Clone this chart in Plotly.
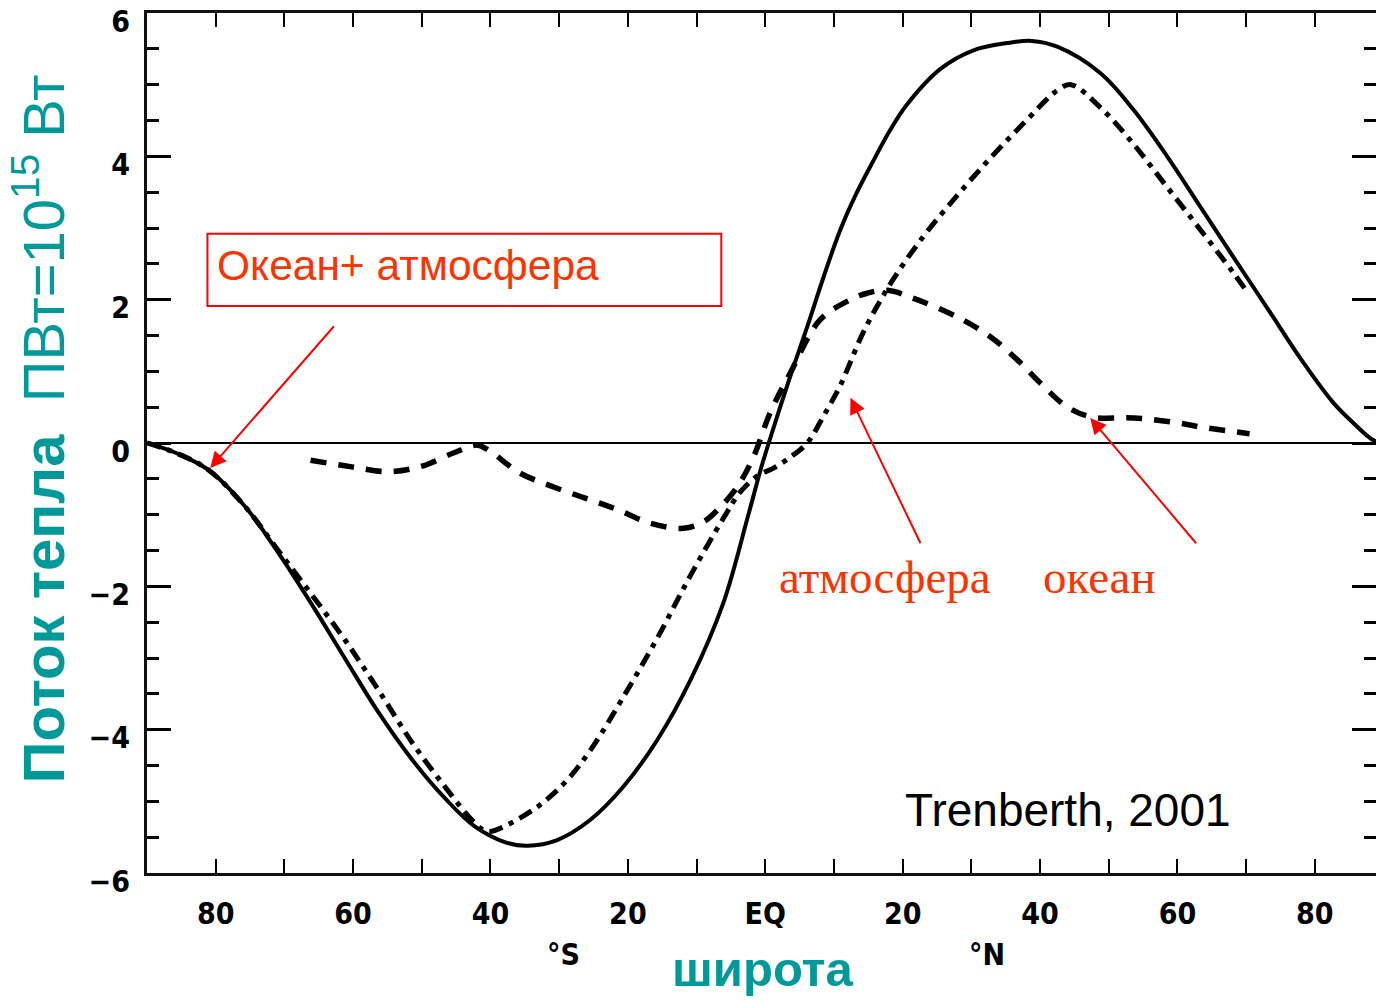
import plotly.graph_objects as go

# ---- data ----
lat_total = [-90, -85.5, -81, -75.7, -70.9, -65.9, -61.1, -56.3, -51.4, -46.6, -42.3, -37.6, -34.6,
             -30.3, -25.5, -20.7, -15.7, -10.9, -6.1, -2.6, -0.7, 0.5, 3.6, 6.1, 8.5, 10.9, 13.3,
             15.8, 18.2, 20.6, 25.5, 30.3, 35.2, 38.8, 42.5, 48.8, 53.6, 58.5, 63.3, 68.1, 73.1,
             77.9, 82.7, 85.6, 88.5, 90]
flux_total = [0, -0.15, -0.38, -0.89, -1.53, -2.27, -3.02, -3.76, -4.42, -4.96, -5.35, -5.58, -5.62,
              -5.54, -5.26, -4.80, -4.14, -3.31, -2.23, -1.05, -0.38, 0.0, 0.92, 1.62, 2.32, 2.97, 3.49,
              3.95, 4.37, 4.72, 5.22, 5.48, 5.58, 5.61, 5.53, 5.16, 4.65, 4.0, 3.3, 2.6, 1.88,
              1.18, 0.56, 0.28, 0.04, 0]

lat_atm = [-90, -85.5, -81, -75.7, -70.9, -66, -61.1, -56.3, -51.4, -46.6, -42.5, -40.5, -37.6,
           -32.8, -28.8, -25.2, -20.7, -15.7, -10.9, -6.1, -3.6, -1.0, 1.2, 3.6, 6.1, 8.5, 10.9,
           14.3, 18.2, 23, 27.9, 32.8, 37.6, 42.5, 44.5, 48.8, 53.6, 58.5, 63.3, 68.1, 70.2]
flux_atm = [0, -0.15, -0.38, -0.89, -1.50, -2.12, -2.76, -3.45, -4.18, -4.80, -5.28, -5.42, -5.33,
            -5.05, -4.70, -4.25, -3.55, -2.72, -1.85, -1.05, -0.68, -0.45, -0.35, -0.2, 0.0, 0.38, 0.8,
            1.55, 2.22, 2.88, 3.45, 3.98, 4.46, 4.92, 5.0, 4.68, 4.17, 3.57, 2.98, 2.38, 2.1]

lat_ocean = [-66.2, -60.4, -55, -50.2, -45.4, -41.9, -40, -35.7, -30.9, -25.9, -21.5, -16.7, -11.9,
             -9, -6.6, -4, -1.7, 0.7, 3.6, 8, 12.4, 14.8, 17.8, 22.1, 27.9, 32.8, 36.7, 40, 44,
             47.7, 53.6, 59.4, 64.3, 70.5]
flux_ocean = [-0.24, -0.33, -0.40, -0.33, -0.14, -0.03, -0.12, -0.42, -0.61, -0.78, -0.93, -1.12, -1.19,
              -1.10, -0.90, -0.60, -0.19, 0.42, 0.97, 1.72, 2.0, 2.09, 2.13, 2.0, 1.76, 1.48, 1.16, 0.84, 0.5,
              0.36, 0.35, 0.29, 0.21, 0.13]

x_tickvals = [-80, -70, -60, -50, -40, -30, -20, -10, 0, 10, 20, 30, 40, 50, 60, 70, 80]
x_ticktext = ["80", "", "60", "", "40", "", "20", "", "EQ", "", "20", "", "40", "", "60", "", "80"]
y_tickvals = [-6, -4, -2, 0, 2, 4, 6]

TEAL = "#009999"
RED = "#ff0000"
TXT_RED = "#ff3300"

fig = go.Figure()
fig.add_trace(go.Scatter(x=lat_total, y=flux_total, mode="lines", line_shape="spline",
                         line=dict(color="black", width=4), name="Океан+ атмосфера"))
fig.add_trace(go.Scatter(x=lat_atm, y=flux_atm, mode="lines", line_shape="spline",
                         line=dict(color="black", width=5, dash="14px,7px,5px,7px"), name="атмосфера"))
fig.add_trace(go.Scatter(x=lat_ocean, y=flux_ocean, mode="lines", line_shape="spline",
                         line=dict(color="black", width=5.5, dash="16px,12px"), name="океан"))

tickfont = dict(family="Liberation Sans Narrow, DejaVu Sans Condensed, Liberation Sans",
                size=30, color="black", weight="bold")

fig.update_layout(
    width=1376, height=1001,
    margin=dict(l=147, r=0, t=13, b=128),
    paper_bgcolor="white", plot_bgcolor="white",
    showlegend=False,
    xaxis=dict(range=[-90, 88.9], tickmode="array", tickvals=x_tickvals, ticktext=x_ticktext,
               ticks="inside", ticklen=14, tickwidth=2, tickcolor="black",
               showline=True, linewidth=3, linecolor="#111", mirror="ticks",
               showgrid=False, zeroline=False, tickfont=tickfont, ticklabelstandoff=12,
               automargin=False),
    yaxis=dict(range=[-6, 6], tickmode="array", tickvals=y_tickvals,
               ticks="inside", ticklen=24, tickwidth=3, tickcolor="black",
               minor=dict(dtick=0.5, ticks="inside", ticklen=12, tickwidth=3, tickcolor="black",
                          showgrid=False),
               showline=True, linewidth=3, linecolor="#111", mirror="ticks",
               showgrid=False, zeroline=True, zerolinecolor="black", zerolinewidth=2,
               tickfont=tickfont, ticklabelstandoff=8, ticklabeloverflow="allow",
               ticklabelshift=8, automargin=False),
)

# box with label
fig.add_shape(type="rect", xref="x", yref="y", x0=-81.2, x1=-6.4, y0=1.91, y1=2.92,
              line=dict(color=RED, width=2), fillcolor="rgba(0,0,0,0)")
fig.add_annotation(x=-80.1, y=2.48, xref="x", yref="y", text="Океан+ атмосфера",
                   showarrow=False, xanchor="left", yanchor="middle",
                   font=dict(family="Liberation Sans, Arial", size=42.5, color=TXT_RED))

# arrows
arrow = dict(showarrow=True, arrowhead=2, arrowsize=1.6, arrowwidth=2, arrowcolor=RED,
             axref="x", ayref="y", xref="x", yref="y", text="")
fig.add_annotation(x=-80.8, y=-0.35, ax=-62.6, ay=1.65, **arrow)
fig.add_annotation(x=12.4, y=0.63, ax=22.7, ay=-1.42, **arrow)
fig.add_annotation(x=47.3, y=0.35, ax=62.9, ay=-1.42, **arrow)

serif = dict(family="Liberation Serif, Times New Roman", size=47, color=TXT_RED)
fig.add_annotation(x=17.4, y=-1.87, xref="x", yref="y", text="атмосфера", showarrow=False,
                   xanchor="center", yanchor="middle", font=serif)
fig.add_annotation(x=48.7, y=-1.87, xref="x", yref="y", text="океан", showarrow=False,
                   xanchor="center", yanchor="middle", font=serif)

fig.add_annotation(x=44.0, y=-5.12, xref="x", yref="y", text="Trenberth, 2001", showarrow=False,
                   xanchor="center", yanchor="middle",
                   font=dict(family="Liberation Sans, Arial", size=46, color="black"))

# hemisphere markers and axis titles
fig.add_annotation(x=-29.3, y=-0.095, xref="x", yref="paper", text="°S", showarrow=False,
                   xanchor="center", yanchor="middle", font=tickfont)
fig.add_annotation(x=32.3, y=-0.095, xref="x", yref="paper", text="°N", showarrow=False,
                   xanchor="center", yanchor="middle", font=tickfont)
fig.add_annotation(x=-0.4, y=-0.112, xref="x", yref="paper", text="широта", showarrow=False,
                   xanchor="center", yanchor="middle",
                   font=dict(family="Liberation Sans, Arial", size=49, color=TEAL, weight="bold"))
fig.add_annotation(x=-0.088, y=0.517, xref="paper", yref="paper", textangle=-90,
                   text="<b>Поток тепла</b>  ПВт=10<sup>15</sup> Вт", showarrow=False,
                   xanchor="center", yanchor="middle",
                   font=dict(family="Liberation Sans, Arial", size=58, color=TEAL))

fig.write_html("out.html")
